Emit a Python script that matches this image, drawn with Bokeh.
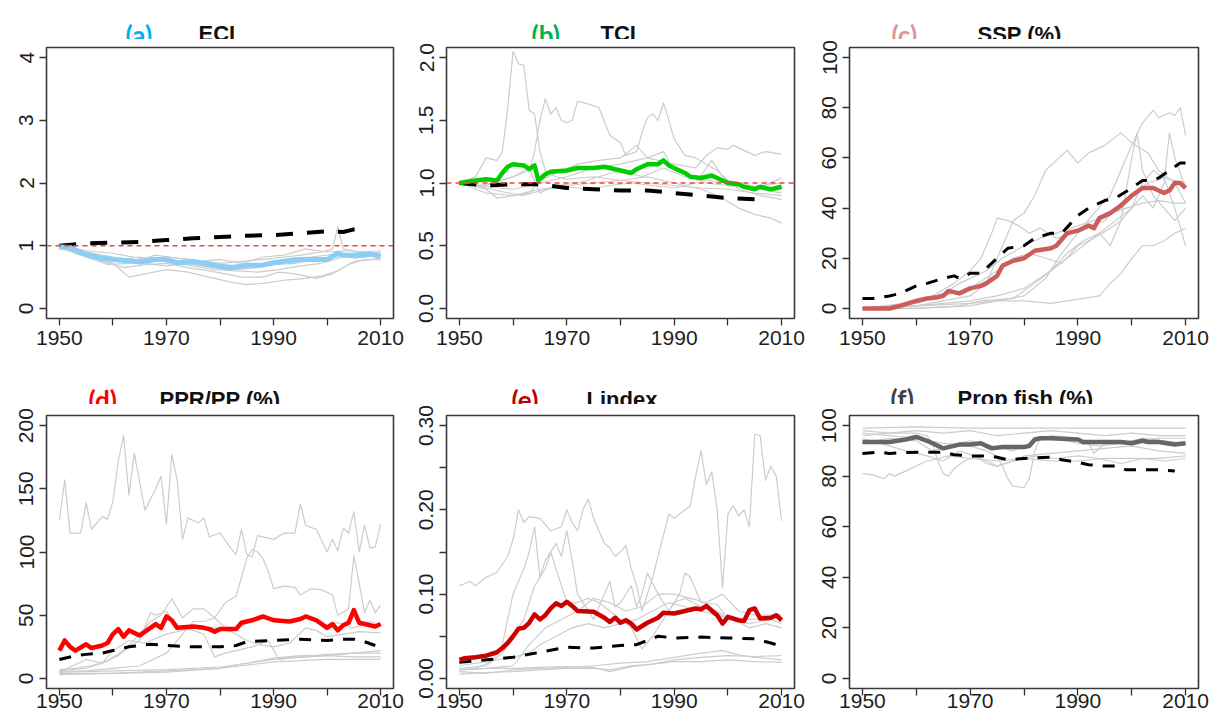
from bokeh.plotting import figure
from bokeh.models import Range1d, FixedTicker, Label, Span
from bokeh.layouts import row, column
from bokeh.embed import file_html
from bokeh.resources import INLINE

YEAR_TICKS = [1950, 1960, 1970, 1980, 1990, 2000, 2010]
YEAR_LABELS = {1950: "1950", 1960: "", 1970: "1970", 1980: "", 1990: "1990", 2000: "", 2010: "2010"}
X_MIN, X_MAX = 1947.6, 2012.4

A_YTICKS = [0, 1, 2, 3, 4]
A_YLABELS = ["0", "1", "2", "3", "4"]
A_MAIN = [(1950, 0.98), (1952, 0.97), (1955, 0.86), (1958, 0.80), (1960, 0.78), (1963, 0.76), (1965, 0.74),
          (1968, 0.78), (1970, 0.78), (1972, 0.73), (1975, 0.75), (1978, 0.70), (1980, 0.67), (1982, 0.65),
          (1985, 0.69), (1988, 0.69), (1990, 0.73), (1993, 0.76), (1995, 0.78), (1998, 0.78), (2000, 0.78),
          (2002, 0.88), (2003, 0.85), (2005, 0.85), (2008, 0.87), (2010, 0.83)]
A_MEAN = [(1950, 1.00), (1955, 1.04), (1960, 1.05), (1965, 1.06), (1970, 1.09), (1975, 1.12), (1980, 1.14),
          (1985, 1.16), (1990, 1.17), (1995, 1.20), (2000, 1.23), (2003, 1.22), (2005, 1.26), (2007, 1.28)]
A_GRAY = [
    [(1950, 0.98), (1953, 0.90), (1956, 0.80), (1960, 0.72), (1963, 0.50), (1966, 0.55), (1970, 0.62), (1974, 0.58),
     (1978, 0.50), (1982, 0.42), (1985, 0.38), (1988, 0.40), (1992, 0.45), (1996, 0.48), (1999, 0.52), (2002, 0.60),
     (2005, 0.75), (2008, 0.78), (2010, 0.80)],
    [(1950, 0.97), (1954, 0.85), (1958, 0.75), (1962, 0.65), (1966, 0.70), (1970, 0.72), (1974, 0.65), (1978, 0.60),
     (1981, 0.55), (1984, 0.50), (1988, 0.50), (1991, 0.58), (1994, 0.55), (1998, 0.48), (2001, 0.55), (2004, 0.70),
     (2007, 0.78), (2010, 0.78)],
    [(1950, 1.00), (1955, 0.92), (1960, 0.88), (1965, 0.80), (1970, 0.82), (1975, 0.78), (1980, 0.72), (1985, 0.76),
     (1990, 0.80), (1995, 0.85), (1999, 0.90), (2001, 0.95), (2002, 1.30), (2003, 0.95), (2006, 0.90), (2010, 0.92)],
    [(1950, 0.99), (1955, 0.90), (1960, 0.82), (1964, 0.75), (1968, 0.85), (1972, 0.80), (1976, 0.75), (1980, 0.78),
     (1984, 0.72), (1988, 0.82), (1992, 0.85), (1996, 0.95), (2000, 0.90), (2004, 0.92), (2010, 0.88)],
    [(1950, 0.96), (1954, 0.88), (1958, 0.78), (1962, 0.80), (1966, 0.72), (1970, 0.68), (1974, 0.72), (1978, 0.66),
     (1982, 0.62), (1986, 0.64), (1990, 0.70), (1994, 0.72), (1998, 0.78), (2002, 0.82), (2006, 0.85), (2010, 0.86)],
    [(1950, 1.00), (1953, 0.95), (1957, 0.85), (1961, 0.78), (1965, 0.82), (1969, 0.76), (1973, 0.70), (1977, 0.74),
     (1981, 0.70), (1985, 0.66), (1989, 0.74), (1993, 0.80), (1997, 0.82), (2001, 0.86), (2005, 0.80), (2010, 0.84)],
    [(1950, 0.98), (1955, 0.82), (1959, 0.70), (1963, 0.72), (1967, 0.78), (1971, 0.74), (1975, 0.68), (1979, 0.62),
     (1983, 0.60), (1987, 0.58), (1991, 0.62), (1995, 0.68), (1999, 0.72), (2003, 0.82), (2007, 0.86), (2010, 0.90)],
]

B_YTICKS = [0, 0.5, 1.0, 1.5, 2.0]
B_YLABELS = ["0.0", "0.5", "1.0", "1.5", "2.0"]
B_MAIN = [(1950, 1.00), (1953, 1.02), (1955, 1.03), (1957, 1.02), (1958, 1.08), (1959, 1.13), (1960, 1.15),
          (1962, 1.14), (1963, 1.11), (1964, 1.14), (1964.7, 1.02), (1966, 1.07), (1967, 1.09), (1970, 1.10),
          (1972, 1.12), (1975, 1.12), (1977, 1.13), (1979, 1.11), (1980, 1.10), (1982, 1.08), (1983, 1.11),
          (1985, 1.15), (1987, 1.15), (1988, 1.18), (1989, 1.14), (1990, 1.12), (1992, 1.08), (1993, 1.05),
          (1995, 1.04), (1997, 1.06), (1998, 1.04), (2000, 1.00), (2002, 0.99), (2003, 0.97), (2005, 0.95),
          (2006, 0.97), (2008, 0.95), (2010, 0.97)]
B_MEAN = [(1950, 1.00), (1955, 0.98), (1960, 0.99), (1965, 0.99), (1970, 0.96), (1975, 0.95), (1980, 0.94),
          (1985, 0.94), (1988, 0.93), (1990, 0.92), (1995, 0.90), (2000, 0.88), (2005, 0.87), (2007, 0.87)]
B_GRAY = [
    [(1950, 1.00), (1953, 1.05), (1955, 1.20), (1957, 1.18), (1958, 1.25), (1959, 1.60), (1960, 2.05), (1961, 1.95),
     (1962, 1.94), (1963, 1.58), (1964, 1.55), (1965, 1.25), (1966, 1.10), (1968, 1.05), (1970, 1.03), (1975, 1.05),
     (1980, 1.02), (1985, 1.00), (1990, 0.98), (1995, 0.96), (2000, 0.95), (2005, 0.92), (2010, 0.90)],
    [(1950, 1.00), (1955, 0.98), (1960, 1.05), (1963, 1.10), (1964, 1.25), (1965, 1.50), (1966, 1.67), (1967, 1.55),
     (1968, 1.60), (1969, 1.50), (1970, 1.48), (1971, 1.50), (1972, 1.65), (1974, 1.63), (1976, 1.60), (1978, 1.38),
     (1980, 1.32), (1981, 1.22), (1983, 1.25), (1984, 1.40), (1985, 1.52), (1986, 1.55), (1987, 1.50), (1988, 1.64),
     (1989, 1.50), (1990, 1.35), (1992, 1.22), (1994, 1.20), (1996, 1.15), (1998, 1.10), (2000, 1.02), (2003, 1.00),
     (2006, 0.95), (2010, 0.92)],
    [(1950, 1.00), (1955, 0.97), (1960, 0.95), (1965, 1.00), (1970, 1.05), (1975, 1.12), (1980, 1.15), (1985, 1.20),
     (1990, 1.15), (1994, 1.12), (1996, 1.22), (1998, 1.28), (2000, 1.27), (2001, 1.30), (2003, 1.26), (2005, 1.22),
     (2007, 1.25), (2010, 1.23)],
    [(1950, 1.00), (1955, 0.92), (1960, 0.90), (1965, 0.95), (1970, 0.98), (1975, 1.00), (1980, 1.02), (1985, 1.05),
     (1990, 1.00), (1995, 0.95), (1998, 0.90), (2000, 0.85), (2002, 0.80), (2005, 0.75), (2008, 0.72), (2010, 0.68)],
    [(1950, 1.00), (1955, 0.95), (1957, 0.88), (1960, 0.90), (1963, 0.92), (1965, 1.02), (1968, 1.08), (1972, 1.15),
     (1976, 1.18), (1980, 1.20), (1983, 1.30), (1985, 1.20), (1988, 1.25), (1990, 1.10), (1993, 1.05), (1996, 1.00),
     (2000, 0.98), (2005, 0.95), (2010, 1.04)],
    [(1950, 1.00), (1953, 0.97), (1956, 1.00), (1960, 1.05), (1963, 1.12), (1965, 0.92), (1968, 0.98), (1972, 1.00),
     (1976, 1.05), (1980, 1.10), (1984, 1.05), (1988, 1.12), (1992, 1.05), (1996, 1.02), (2000, 1.00), (2003, 0.97),
     (2006, 0.98), (2010, 1.00)],
    [(1950, 1.00), (1954, 0.97), (1958, 0.93), (1962, 0.90), (1966, 0.95), (1970, 0.97), (1974, 0.95), (1978, 0.98),
     (1982, 1.00), (1986, 0.98), (1990, 0.96), (1994, 1.00), (1997, 1.18), (1999, 1.05), (2002, 0.95), (2006, 0.90),
     (2010, 0.87)],
]

C_YTICKS = [0, 20, 40, 60, 80, 100]
C_YLABELS = ["0", "20", "40", "60", "80", "100"]
C_MAIN = [(1950, 0), (1955, 0), (1957, 1), (1960, 3), (1962, 4), (1964, 4.5), (1965, 5), (1966, 7), (1968, 6),
          (1970, 8), (1972, 9), (1973, 10), (1975, 13), (1976, 17), (1978, 19), (1980, 20), (1982, 23), (1985, 24),
          (1986, 25), (1988, 30), (1990, 31), (1992, 33), (1993, 32), (1994, 36), (1996, 38), (1998, 41), (2000, 45),
          (2002, 48), (2004, 48), (2006, 46), (2007, 47), (2008, 50), (2009, 50), (2010, 48)]
C_MEAN = [(1950, 4), (1952, 4), (1955, 5), (1957, 6), (1958, 7), (1960, 9), (1962, 10), (1965, 12), (1967, 13),
          (1968, 12), (1970, 14), (1972, 14), (1975, 20), (1977, 24), (1980, 25), (1982, 28), (1985, 30), (1987, 30),
          (1990, 37), (1992, 40), (1995, 43), (1997, 44), (2000, 48), (2002, 51), (2004, 51), (2005, 52), (2007, 55),
          (2009, 58), (2010, 58)]
C_GRAY = [
    [(1950, 0), (1960, 0), (1970, 1), (1975, 3), (1980, 5), (1984, 12), (1987, 22), (1990, 30), (1993, 38), (1996, 45),
     (1998, 55), (2000, 65), (2002, 74), (2004, 79), (2005, 76), (2007, 78), (2008, 77), (2009, 80), (2010, 69)],
    [(1950, 0), (1960, 1), (1965, 3), (1970, 5), (1973, 10), (1976, 25), (1978, 35), (1980, 38), (1982, 45), (1984, 55),
     (1986, 59), (1988, 63), (1990, 58), (1992, 62), (1995, 65), (1998, 70), (2000, 66), (2003, 62), (2005, 55),
     (2008, 50), (2010, 42)],
    [(1950, 0), (1958, 2), (1963, 5), (1967, 10), (1970, 15), (1972, 20), (1974, 30), (1975, 36), (1977, 35), (1979, 33),
     (1981, 30), (1983, 32), (1986, 28), (1989, 30), (1992, 33), (1995, 35), (1998, 42), (2000, 45), (2003, 50),
     (2006, 52), (2010, 50)],
    [(1950, 0), (1960, 1), (1970, 2), (1975, 3), (1980, 3), (1985, 2), (1988, 3), (1991, 4), (1994, 5), (1996, 10),
     (1998, 14), (2000, 20), (2002, 25), (2004, 25), (2006, 27), (2008, 30), (2010, 32)],
    [(1950, 0), (1960, 0), (1968, 1), (1972, 3), (1978, 4), (1982, 10), (1985, 15), (1988, 20), (1991, 25), (1994, 30),
     (1997, 35), (2000, 40), (2002, 50), (2004, 55), (2006, 52), (2008, 40), (2010, 25)],
    [(1950, 0), (1960, 2), (1965, 5), (1970, 8), (1975, 15), (1978, 20), (1981, 22), (1984, 20), (1987, 18), (1990, 25),
     (1993, 28), (1996, 32), (1998, 35), (2000, 40), (2002, 45), (2004, 40), (2006, 50), (2007, 70), (2008, 60),
     (2010, 48)],
    [(1950, 0), (1955, 1), (1960, 3), (1965, 6), (1968, 10), (1970, 12), (1973, 15), (1976, 20), (1980, 25), (1983, 28),
     (1986, 30), (1990, 33), (1993, 35), (1996, 38), (1999, 40), (2002, 42), (2005, 43), (2008, 42), (2010, 42)],
    [(1950, 0), (1960, 1), (1970, 3), (1975, 5), (1980, 8), (1985, 15), (1988, 22), (1991, 27), (1994, 30), (1996, 25),
     (1998, 35), (2000, 60), (2001, 70), (2002, 55), (2004, 45), (2006, 40), (2008, 35), (2010, 40)],
]

D_YTICKS = [0, 50, 100, 150, 200]
D_YLABELS = ["0", "50", "100", "150", "200"]
D_MAIN = [(1950, 22), (1951, 30), (1952, 25), (1953, 22), (1955, 27), (1956, 24), (1958, 26), (1959, 28), (1960, 35),
          (1961, 39), (1962, 33), (1963, 38), (1965, 34), (1967, 40), (1968, 43), (1969, 40), (1970, 49), (1971, 46),
          (1972, 40), (1975, 41), (1977, 40), (1978, 39), (1979, 37), (1980, 39), (1983, 39), (1984, 44), (1985, 45),
          (1986, 46), (1988, 49), (1990, 46), (1993, 45), (1995, 47), (1996, 49), (1998, 46), (2000, 40), (2001, 43),
          (2002, 38), (2003, 42), (2004, 44), (2005, 54), (2006, 44), (2008, 42), (2009, 41), (2010, 43)]
D_MEAN = [(1950, 15), (1953, 18), (1955, 19), (1958, 20), (1960, 22), (1963, 25), (1965, 26), (1967, 27), (1970, 26),
          (1975, 25), (1980, 25), (1983, 26), (1985, 29), (1990, 30), (1995, 31), (2000, 30), (2003, 31), (2005, 31),
          (2007, 29), (2009, 26)]
D_GRAY = [
    [(1950, 125), (1951, 157), (1952, 115), (1954, 115), (1955, 139), (1956, 118), (1958, 128), (1959, 126),
     (1960, 140), (1961, 172), (1962, 192), (1963, 145), (1964, 178), (1966, 133), (1968, 150), (1969, 160),
     (1970, 122), (1971, 177), (1972, 157), (1973, 110), (1974, 127), (1976, 123), (1977, 127), (1978, 112),
     (1980, 115), (1982, 103), (1983, 98), (1984, 118), (1985, 98), (1986, 96), (1987, 113), (1990, 110), (1992, 115),
     (1994, 115), (1995, 138), (1996, 121), (1998, 118), (2000, 100), (2001, 110), (2002, 101), (2003, 119),
     (2004, 115), (2005, 132), (2006, 100), (2007, 121), (2008, 103), (2009, 104), (2010, 122)],
    [(1950, 5), (1955, 6), (1960, 8), (1965, 10), (1970, 20), (1973, 35), (1975, 45), (1977, 45), (1979, 48), (1981, 60),
     (1983, 65), (1984, 80), (1985, 95), (1986, 102), (1987, 100), (1988, 95), (1989, 85), (1990, 71), (1992, 73),
     (1994, 72), (1995, 66), (1997, 71), (1999, 70), (2001, 66), (2002, 50), (2004, 55), (2005, 97), (2006, 75),
     (2007, 52), (2008, 62), (2009, 52), (2010, 58)],
    [(1950, 7), (1953, 8), (1956, 10), (1959, 14), (1962, 22), (1965, 35), (1967, 45), (1969, 50), (1971, 63), (1973, 48),
     (1975, 55), (1977, 55), (1979, 48), (1981, 40), (1983, 35), (1985, 30), (1987, 27), (1990, 25), (1993, 28),
     (1996, 40), (1998, 38), (2000, 33), (2003, 35), (2006, 37), (2010, 36)],
    [(1950, 6), (1955, 8), (1958, 12), (1961, 18), (1963, 25), (1965, 30), (1967, 52), (1968, 50), (1970, 53), (1972, 40),
     (1975, 38), (1977, 35), (1979, 17), (1981, 20), (1983, 22), (1986, 25), (1989, 30), (1991, 15), (1993, 16),
     (1996, 17), (2000, 18), (2005, 20), (2010, 22)],
    [(1950, 5), (1955, 15), (1958, 12), (1960, 22), (1963, 30), (1966, 28), (1970, 35), (1973, 38), (1976, 42), (1979, 40),
     (1982, 37), (1985, 44), (1988, 47), (1990, 48), (1993, 45), (1996, 48), (1999, 42), (2002, 44), (2005, 40),
     (2008, 45), (2010, 42)],
    [(1950, 4), (1960, 4), (1970, 6), (1980, 8), (1985, 12), (1990, 16), (1995, 18), (2000, 18), (2005, 17), (2010, 17)],
    [(1950, 5), (1960, 6), (1970, 7), (1980, 9), (1985, 12), (1990, 15), (1995, 17), (2000, 19), (2005, 20), (2010, 20)],
    [(1950, 3), (1960, 4), (1970, 5), (1980, 8), (1990, 13), (2000, 15), (2005, 15), (2010, 15)],
]

E_YTICKS = [0, 0.05, 0.1, 0.15, 0.2, 0.25, 0.3]
E_YLABELS = ["0.00", "", "0.10", "", "0.20", "", "0.30"]
E_MAIN = [(1950, 0.022), (1951, 0.024), (1953, 0.025), (1955, 0.027), (1957, 0.031), (1958, 0.036), (1959, 0.042),
          (1960, 0.050), (1961, 0.059), (1962, 0.060), (1963, 0.066), (1964, 0.076), (1965, 0.070), (1966, 0.075),
          (1967, 0.083), (1968, 0.089), (1969, 0.086), (1970, 0.091), (1971, 0.086), (1972, 0.080), (1975, 0.079),
          (1977, 0.072), (1978, 0.067), (1979, 0.072), (1980, 0.066), (1981, 0.069), (1982, 0.065), (1983, 0.058),
          (1985, 0.066), (1987, 0.072), (1988, 0.078), (1990, 0.077), (1992, 0.080), (1994, 0.083), (1995, 0.082),
          (1996, 0.086), (1998, 0.075), (1999, 0.065), (2000, 0.073), (2002, 0.069), (2003, 0.068), (2004, 0.081),
          (2005, 0.083), (2006, 0.071), (2008, 0.072), (2009, 0.075), (2010, 0.069)]
E_MEAN = [(1950, 0.019), (1955, 0.022), (1960, 0.025), (1965, 0.031), (1970, 0.037), (1975, 0.036), (1980, 0.039),
          (1983, 0.040), (1985, 0.045), (1987, 0.050), (1990, 0.048), (1995, 0.049), (2000, 0.048), (2005, 0.047),
          (2008, 0.042), (2009, 0.040)]
E_GRAY = [
    [(1950, 0.110), (1952, 0.115), (1953, 0.110), (1955, 0.120), (1957, 0.126), (1959, 0.145), (1960, 0.165),
     (1961, 0.200), (1962, 0.185), (1963, 0.192), (1965, 0.190), (1967, 0.175), (1969, 0.180), (1970, 0.200),
     (1971, 0.185), (1972, 0.175), (1973, 0.200), (1974, 0.213), (1975, 0.190), (1976, 0.175), (1977, 0.160),
     (1978, 0.155), (1979, 0.145), (1980, 0.150), (1981, 0.158), (1982, 0.130), (1983, 0.110), (1984, 0.080),
     (1985, 0.100), (1986, 0.120), (1987, 0.145), (1988, 0.170), (1989, 0.195), (1990, 0.190), (1992, 0.200),
     (1993, 0.205), (1994, 0.240), (1995, 0.270), (1996, 0.230), (1997, 0.245), (1998, 0.200), (1999, 0.107),
     (2000, 0.195), (2001, 0.205), (2002, 0.193), (2003, 0.200), (2004, 0.180), (2005, 0.290), (2006, 0.288),
     (2007, 0.235), (2008, 0.252), (2009, 0.240), (2010, 0.187)],
    [(1950, 0.010), (1953, 0.012), (1956, 0.020), (1958, 0.040), (1960, 0.100), (1962, 0.130), (1963, 0.150),
     (1964, 0.180), (1965, 0.120), (1966, 0.140), (1968, 0.160), (1969, 0.145), (1970, 0.175), (1971, 0.140),
     (1972, 0.100), (1973, 0.090), (1975, 0.070), (1977, 0.100), (1978, 0.115), (1979, 0.085), (1980, 0.090),
     (1982, 0.110), (1983, 0.085), (1984, 0.100), (1985, 0.125), (1987, 0.100), (1989, 0.080), (1991, 0.100),
     (1992, 0.125), (1993, 0.120), (1995, 0.090), (1998, 0.088), (2000, 0.070), (2005, 0.070), (2010, 0.072)],
    [(1950, 0.012), (1955, 0.015), (1958, 0.030), (1960, 0.050), (1962, 0.070), (1964, 0.110), (1966, 0.130),
     (1967, 0.150), (1968, 0.130), (1970, 0.090), (1972, 0.090), (1974, 0.095), (1976, 0.090), (1978, 0.080),
     (1980, 0.070), (1982, 0.060), (1984, 0.035), (1986, 0.050), (1988, 0.070), (1990, 0.090), (1992, 0.095),
     (1995, 0.085), (1998, 0.080), (2000, 0.070), (2004, 0.065), (2008, 0.070), (2010, 0.065)],
    [(1950, 0.010), (1955, 0.012), (1960, 0.015), (1963, 0.040), (1966, 0.060), (1969, 0.070), (1972, 0.080),
     (1975, 0.095), (1978, 0.090), (1981, 0.080), (1984, 0.085), (1987, 0.100), (1990, 0.100), (1993, 0.095),
     (1996, 0.090), (1999, 0.100), (2002, 0.080), (2005, 0.075), (2010, 0.075)],
    [(1950, 0.015), (1955, 0.020), (1960, 0.025), (1963, 0.030), (1965, 0.040), (1968, 0.050), (1971, 0.060),
     (1974, 0.065), (1977, 0.060), (1980, 0.065), (1983, 0.070), (1986, 0.080), (1989, 0.090), (1992, 0.085),
     (1995, 0.080), (1998, 0.075), (2001, 0.070), (2004, 0.060), (2007, 0.065), (2010, 0.060)],
    [(1950, 0.005), (1955, 0.007), (1960, 0.008), (1965, 0.010), (1970, 0.012), (1975, 0.012), (1978, 0.010),
     (1982, 0.015), (1986, 0.017), (1990, 0.022), (1995, 0.025), (2000, 0.027), (2005, 0.026), (2010, 0.027)],
    [(1950, 0.008), (1955, 0.006), (1960, 0.010), (1965, 0.012), (1970, 0.013), (1975, 0.015), (1980, 0.018),
     (1985, 0.020), (1990, 0.025), (1995, 0.030), (1999, 0.033), (2002, 0.028), (2005, 0.025), (2010, 0.022)],
    [(1950, 0.010), (1955, 0.012), (1960, 0.012), (1965, 0.013), (1970, 0.014), (1975, 0.013), (1978, 0.008),
     (1982, 0.014), (1986, 0.017), (1990, 0.020), (1995, 0.020), (2000, 0.022), (2005, 0.020), (2010, 0.019)],
]

F_YTICKS = [0, 20, 40, 60, 80, 100]
F_YLABELS = ["0", "20", "40", "60", "80", "100"]
F_MAIN = [(1950, 93.5), (1955, 93.5), (1958, 94.5), (1960, 95.5), (1962, 94), (1963, 93), (1965, 91), (1966, 91.5),
          (1968, 92.5), (1970, 92.5), (1972, 93), (1974, 91), (1976, 91.5), (1978, 91.5), (1980, 91.5), (1981, 92),
          (1982, 94.5), (1983, 95), (1985, 95), (1990, 94.5), (1991, 93.5), (1995, 93.5), (1998, 93.5), (2000, 93),
          (2002, 94), (2003, 93.5), (2005, 93.5), (2008, 92.5), (2010, 93)]
F_MEAN = [(1950, 89), (1953, 89.5), (1955, 89), (1960, 89.5), (1965, 89.5), (1967, 88.5), (1970, 88), (1973, 88),
          (1975, 87.5), (1977, 86.5), (1980, 87), (1985, 87.5), (1987, 86.5), (1990, 85.5), (1992, 84.5), (1995, 84),
          (1997, 84), (1999, 82.5), (2000, 82.5), (2005, 82.5), (2008, 82)]
F_GRAY = [
    [(1950, 99), (1960, 99.5), (1970, 99), (1980, 99), (1990, 99), (2000, 99), (2010, 99)],
    [(1950, 81), (1952, 80.5), (1954, 79), (1955, 81), (1956, 80), (1958, 82), (1960, 84), (1962, 86), (1964, 87),
     (1966, 88), (1970, 87), (1975, 86), (1980, 87), (1985, 86), (1990, 86), (1995, 87), (2000, 87), (2005, 87),
     (2010, 88)],
    [(1950, 97), (1955, 96), (1960, 95), (1965, 93), (1970, 92), (1973, 90), (1975, 88), (1976, 84), (1977, 79),
     (1978, 76), (1980, 75.5), (1981, 79), (1982, 90), (1983, 95), (1985, 96), (1990, 95), (1992, 93), (1993, 89),
     (1995, 93), (2000, 94), (2005, 95), (2010, 95)],
    [(1950, 96), (1955, 97), (1960, 97), (1962, 96), (1963, 93), (1964, 86), (1965, 81), (1966, 80), (1967, 83),
     (1969, 86), (1971, 88), (1973, 85), (1975, 84), (1978, 86), (1980, 88), (1985, 89), (1990, 90), (1995, 91),
     (2000, 92), (2005, 90), (2010, 89)],
    [(1950, 98), (1955, 97), (1960, 98), (1965, 97), (1970, 98), (1975, 96), (1980, 97), (1985, 98), (1990, 97),
     (1995, 96), (2000, 97), (2005, 96), (2010, 96)],
    [(1950, 95), (1955, 92), (1958, 90), (1962, 88), (1965, 86), (1968, 90), (1972, 87), (1975, 84), (1978, 86),
     (1982, 88), (1986, 87), (1990, 88), (1994, 87), (1998, 85), (2002, 87), (2006, 86), (2010, 87)],
    [(1950, 93), (1955, 95), (1960, 94), (1963, 90), (1966, 92), (1970, 94), (1974, 92), (1978, 90), (1982, 94),
     (1986, 95), (1990, 93), (1994, 92), (1998, 93), (2002, 95), (2006, 94), (2010, 93)],
]

FONT = "Liberation Sans"
BOX = "#3a3a3a"

# page layout (px).  Columns: x0, width, plot-box left, plot-box right
COLS = [(0, 406, 46, 393), (406, 400, 446, 794), (806, 414, 849, 1198)]
# Rows: y0, height, title-strip height, plot-box top, plot-box bottom
ROWS = [(0, 364, 39, 47, 318), (364, 360, 40, 415, 688)]


def title_strip(col, rw, tag, tag_color, tag_pos, title, title_pos):
    x0, w, L, R = COLS[col]
    y0, h, sh, T, B = ROWS[rw]
    s = figure(width=w, height=sh, output_backend="svg", toolbar_location=None,
               x_range=Range1d(0, 1), y_range=Range1d(0, 1), x_axis_type=None, y_axis_type=None,
               min_border_left=L - x0, min_border_right=x0 + w - R, min_border_top=0, min_border_bottom=0)
    s.outline_line_color = None
    s.background_fill_color = "white"
    s.border_fill_color = "white"
    s.add_layout(Label(x=tag_pos[0] - L, y=y0 + sh - tag_pos[1], x_units="screen", y_units="screen",
                       text=tag, text_color=tag_color, text_font="Lato", text_font_style="bold",
                       text_font_size="26px", text_baseline="alphabetic", text_align="left"))
    s.add_layout(Label(x=title_pos[0] - L, y=y0 + sh - title_pos[1], x_units="screen", y_units="screen",
                       text=title, text_color="#111111", text_font=FONT, text_font_style="bold",
                       text_font_size="22px", text_baseline="alphabetic", text_align="left"))
    return s


def plot(col, rw, yticks, ylabels, gray, mean, main, main_color, main_w, mean_w, mean_dash, ref=None, x_gap=5):
    x0, w, L, R = COLS[col]
    y0, h, sh, T, B = ROWS[rw]
    py0, ph = y0 + sh, h - sh
    ymax = yticks[-1]
    pad = 0.04 * ymax
    p = figure(width=w, height=ph, output_backend="svg", toolbar_location=None,
               x_range=Range1d(X_MIN, X_MAX), y_range=Range1d(-pad, ymax + pad),
               min_border_left=L - x0, min_border_right=x0 + w - R,
               min_border_top=T - py0, min_border_bottom=py0 + ph - B)
    p.background_fill_color = "white"
    p.border_fill_color = "white"
    p.outline_line_color = BOX
    p.outline_line_width = 1.6
    p.xgrid.visible = False
    p.ygrid.visible = False

    p.multi_line(xs=[[pt[0] for pt in g] for g in gray], ys=[[pt[1] for pt in g] for g in gray],
                 line_color="#cccccc", line_width=1.2, line_join="round")
    if ref is not None:
        p.add_layout(Span(location=ref, dimension="width", line_color="#ff3b3b",
                          line_dash="5 4", line_width=1.5))
    p.line([pt[0] for pt in mean], [pt[1] for pt in mean], line_color="black",
           line_width=mean_w, line_dash=mean_dash)
    p.line([pt[0] for pt in main], [pt[1] for pt in main], line_color=main_color,
           line_width=main_w, line_join="round")

    xa = p.xaxis[0]
    ya = p.yaxis[0]
    xa.ticker = FixedTicker(ticks=YEAR_TICKS)
    xa.major_label_overrides = YEAR_LABELS
    ya.ticker = FixedTicker(ticks=yticks)
    ya.major_label_overrides = dict(zip(yticks, ylabels))
    ya.major_label_orientation = "vertical"
    for ax in (xa, ya):
        ax.axis_line_color = None
        ax.major_tick_line_color = "#333333"
        ax.major_tick_line_width = 1.3
        ax.major_tick_out = 7
        ax.major_tick_in = 0
        ax.minor_tick_line_color = None
        ax.major_label_text_font = FONT
        ax.major_label_text_font_size = "21px"
        ax.major_label_text_color = "#1e1e1e"
    ya.major_label_standoff = 6
    xa.major_label_standoff = x_gap
    return p


def panel(col, rw, tag, tag_color, tag_pos, title, title_pos, *args, **kw):
    return column(title_strip(col, rw, tag, tag_color, tag_pos, title, title_pos), plot(col, rw, *args, **kw))


pa = panel(0, 0, "(a)", "#00b0f0", (125, 34), "ECI", (198, 33),
           A_YTICKS, A_YLABELS, A_GRAY, A_MEAN, A_MAIN, "#87cefa", 5, 4, "17 14", ref=1)
pb = panel(1, 0, "(b)", "#00b050", (531, 34), "TCI", (600, 33),
           B_YTICKS, B_YLABELS, B_GRAY, B_MEAN, B_MAIN, "#00cc00", 4.5, 4, "17 14", ref=1)
pc = panel(2, 0, "(c)", "#d99694", (891, 34), "SSP (%)", (977, 34),
           C_YTICKS, C_YLABELS, C_GRAY, C_MEAN, C_MAIN, "#cd5c5c", 4.5, 3, "12 10")
pd = panel(0, 1, "(d)", "#ff0000", (88, 399), "PPR/PP (%)", (159, 399),
           D_YTICKS, D_YLABELS, D_GRAY, D_MEAN, D_MAIN, "#ff0000", 4.5, 3, "12 10", x_gap=-2)
pe = panel(1, 1, "(e)", "#c00000", (511, 399), "Lindex", (586, 399),
           E_YTICKS, E_YLABELS, E_GRAY, E_MEAN, E_MAIN, "#cc0000", 4.5, 3, "12 10", x_gap=-2)
pf = panel(2, 1, "(f)", "#404040", (890, 398), "Prop fish (%)", (957, 398),
           F_YTICKS, F_YLABELS, F_GRAY, F_MEAN, F_MAIN, "#666666", 4.5, 3, "12 10", x_gap=-2)

layout = column(row(pa, pb, pc), row(pd, pe, pf))
open("out.html", "w").write(file_html(layout, INLINE))
